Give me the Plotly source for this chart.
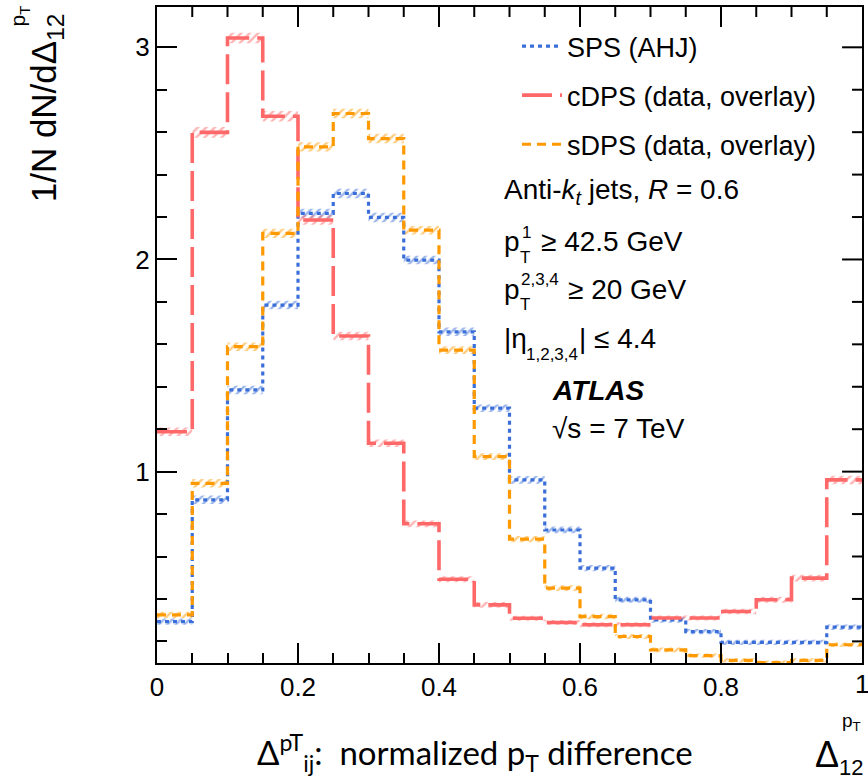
import plotly.graph_objects as go

# ---------------- data ----------------
bin_lo = [0.00, 0.05, 0.10, 0.15, 0.20, 0.25, 0.30, 0.35, 0.40, 0.45,
          0.50, 0.55, 0.60, 0.65, 0.70, 0.75, 0.80, 0.85, 0.90, 0.95]
bin_width = 0.05

sps = [0.293, 0.867, 1.385, 1.785, 2.217, 2.311, 2.198, 1.997, 1.659, 1.299,
       0.961, 0.725, 0.545, 0.396, 0.301, 0.246, 0.195, 0.195, 0.195, 0.267]
cdps = [1.188, 2.599, 3.044, 2.675, 2.186, 1.639, 1.134, 0.754, 0.493, 0.372,
        0.309, 0.289, 0.278, 0.278, 0.310, 0.310, 0.341, 0.396, 0.498, 0.961]
sdps = [0.325, 0.945, 1.589, 2.123, 2.531, 2.688, 2.570, 2.138, 1.573, 1.071,
        0.682, 0.451, 0.317, 0.223, 0.160, 0.133, 0.110, 0.100, 0.110, 0.184]

sps_err = [0.015, 0.020, 0.020, 0.020, 0.022, 0.022, 0.022, 0.020, 0.020, 0.018,
           0.018, 0.016, 0.015, 0.014, 0.013, 0.012, 0.012, 0.012, 0.012, 0.013]
cdps_err = [0.020, 0.025, 0.025, 0.025, 0.022, 0.020, 0.018, 0.016, 0.014, 0.013,
            0.012, 0.012, 0.012, 0.012, 0.012, 0.012, 0.013, 0.014, 0.016, 0.020]
sdps_err = [0.015, 0.020, 0.020, 0.022, 0.022, 0.022, 0.022, 0.020, 0.018, 0.016,
            0.015, 0.014, 0.013, 0.012, 0.011, 0.010, 0.010, 0.010, 0.010, 0.011]

series_names = ["SPS (AHJ)", "cDPS (data, overlay)", "sDPS (data, overlay)"]
x_tick_vals = [0, 0.2, 0.4, 0.6, 0.8, 1.0]
x_tick_text = ["0", "0.2", "0.4", "0.6", "0.8", "1"]
y_tick_vals = [1, 2, 3]
y_tick_text = ["1", "2", "3"]
x_range = [0, 1]
y_range = [0.098, 3.19]

# ---------------- styling ----------------
BLUE = "#3a6ed8"
RED = "#ff6868"
ORANGE = "#ff9900"
FONT = "Liberation Sans, Arial, sans-serif"

styles = [
    dict(color=BLUE, dash="4px,4px", width=3.2),
    dict(color=RED, dash="30px,8px", width=3.6),
    dict(color=ORANGE, dash="9px,6px", width=3.2),
]
values = [sps, cdps, sdps]
errors = [sps_err, cdps_err, sdps_err]

L, R, T, B = 157, 4, 7, 117
W, H = 868, 780
PW, PH = W - L - R, H - T - B
MAJOR_LEN, MINOR_LEN = 20, 10
TICK_W = 2


def px(x):
    return (x - L) / PW


def py(y):
    return (H - B - y) / PH


fig = go.Figure()

# hatched uncertainty bands
for vals, errs, st in zip(values, errors, styles):
    centers = [lo + bin_width / 2 for lo in bin_lo]
    fig.add_trace(go.Bar(
        x=centers, y=[2 * e for e in errs], base=[v - e for v, e in zip(vals, errs)],
        width=bin_width, showlegend=False, hoverinfo="skip",
        marker=dict(color="rgba(0,0,0,0)", line=dict(width=0),
                    pattern=dict(shape="/", fgcolor=st["color"], size=6,
                                 solidity=0.4, fillmode="overlay")),
    ))

# step histograms
for i, (name, vals, st) in enumerate(zip(series_names, values, styles)):
    xs = bin_lo + [bin_lo[-1] + bin_width]
    ys = vals + [vals[-1]]
    fig.add_trace(go.Scatter(
        x=xs, y=ys, mode="lines", name=name, line_shape="hv",
        line=dict(color=st["color"], dash=st["dash"], width=st["width"]),
        legendgroup=f"g{i}",
    ))

# mirrored tick marks on the top and right frame edges (axis decoration)
xminor_dtick, yminor_dtick = 0.05, 0.2
x_per_px = (x_range[1] - x_range[0]) / PW
y_per_px = (y_range[1] - y_range[0]) / PH
tx, ty = [], []
n_x = int(round((x_range[1] - x_range[0]) / xminor_dtick))
for k in range(1, n_x):
    xv = round(k * xminor_dtick, 4)
    ln = MAJOR_LEN if any(abs(xv - t) < 1e-6 for t in x_tick_vals) else MINOR_LEN
    tx += [xv, xv, None]
    ty += [y_range[1], y_range[1] - ln * y_per_px, None]
k = 1
while k * yminor_dtick < y_range[1]:
    yv = round(k * yminor_dtick, 4)
    if yv > y_range[0]:
        ln = MAJOR_LEN if any(abs(yv - t) < 1e-6 for t in y_tick_vals) else MINOR_LEN
        tx += [x_range[1], x_range[1] - ln * x_per_px, None]
        ty += [yv, yv, None]
    k += 1
fig.add_trace(go.Scatter(x=tx, y=ty, mode="lines", line=dict(color="black", width=TICK_W),
                         showlegend=False, hoverinfo="skip", connectgaps=False))

axis_common = dict(
    ticks="inside", tickwidth=TICK_W, tickcolor="black", ticklen=MAJOR_LEN,
    showline=True, linecolor="black", linewidth=2, mirror=True,
    showgrid=False, zeroline=False,
    tickfont=dict(family=FONT, size=26, color="black"),
)
fig.update_xaxes(range=x_range, tickvals=x_tick_vals, ticktext=x_tick_text,
                 minor=dict(tick0=0, dtick=xminor_dtick, ticks="inside", ticklen=MINOR_LEN,
                            tickwidth=TICK_W, tickcolor="black", showgrid=False),
                 **axis_common)
fig.update_yaxes(range=y_range, tickvals=y_tick_vals, ticktext=y_tick_text,
                 minor=dict(tick0=0, dtick=yminor_dtick, ticks="inside", ticklen=MINOR_LEN,
                            tickwidth=TICK_W, tickcolor="black", showgrid=False),
                 **axis_common)

ann = []


def text(x, y, s, size=27, anchor="left", family=FONT, angle=0, yanchor="middle"):
    ann.append(dict(x=px(x), y=py(y), xref="paper", yref="paper", text=s,
                    showarrow=False, xanchor=anchor, yanchor=yanchor, textangle=angle,
                    font=dict(family=family, size=size, color="black")))


# right-end x tick label (sits on the page edge, as in the reference)
text(864, 684, x_tick_text[-1], size=26, anchor="center")

# info block
text(503, 192, "Anti-<i>k</i><sub><i>t</i></sub> jets, <i>R</i> = 0.6", size=28)
text(503, 241, "p", size=28)
text(521, 233, "1", size=17)
text(519, 257, "T", size=17)
text(540, 241, "≥ 42.5 GeV", size=28)
text(503, 289, "p", size=28)
text(520, 279, "2,3,4", size=17)
text(519, 304, "T", size=17)
text(567, 289, "≥ 20 GeV", size=28)
text(503, 338, "|η", size=28)
text(525, 354, "1,2,3,4", size=17)
text(578, 338, "| ≤ 4.4", size=28)
text(551, 390, "<b><i>ATLAS</i></b>", size=28)
text(551, 428, "√s = 7 TeV", size=28)

# y-axis title (rotated)
text(46, 108, "1/N dN/dΔ<sub>12</sub>", size=35, anchor="center", angle=-90)
text(19, 16, "p<sub>T</sub>", size=21, anchor="center", angle=-90)

# x-axis titles
text(476, 752, "Δ<sup>pT</sup><sub>ij</sub>:  normalized p<sub>T</sub> difference",
     size=33, anchor="center", family="Lato, Carlito, sans-serif")
text(829, 755, "Δ", size=36, anchor="center")
text(853, 767, "12", size=22, anchor="center")
text(853, 722, "p<sub>T</sub>", size=19, anchor="center")

fig.update_layout(
    width=W, height=H,
    margin=dict(l=L, r=R, t=T, b=B),
    paper_bgcolor="white", plot_bgcolor="white",
    barmode="overlay",
    font=dict(family=FONT, color="black"),
    showlegend=True,
    legend=dict(x=px(518), y=py(22), xanchor="left", yanchor="top",
                bgcolor="rgba(0,0,0,0)", font=dict(family=FONT, size=27),
                traceorder="grouped", tracegroupgap=11, itemwidth=40),
    annotations=ann,
)

fig.write_html("out.html")
